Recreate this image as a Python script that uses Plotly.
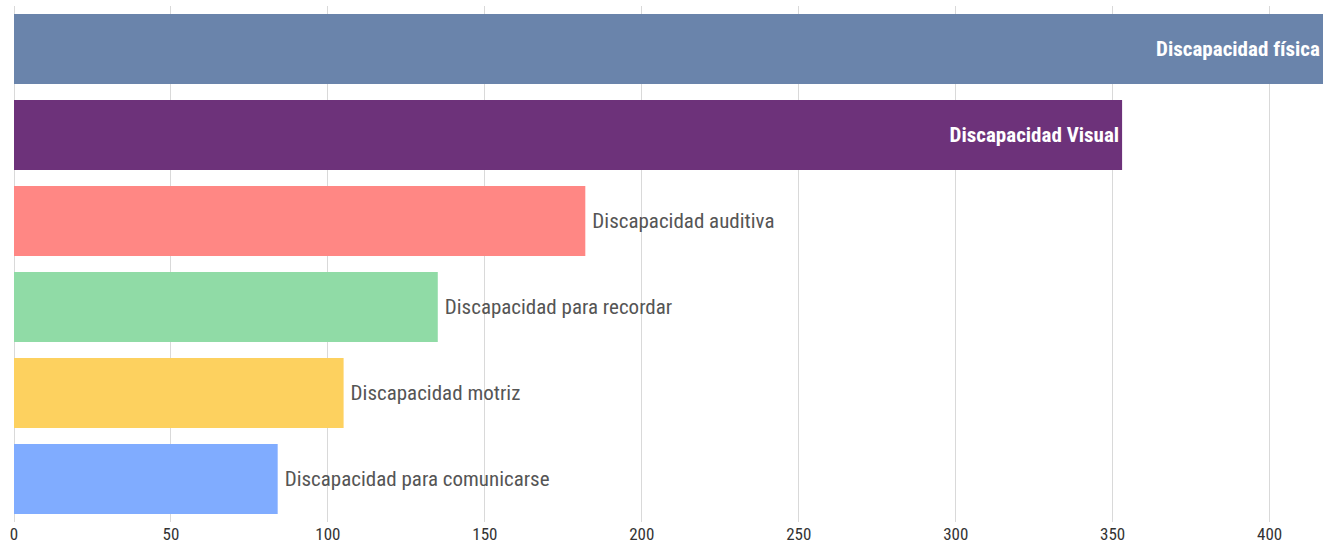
import plotly.graph_objects as go

categories = ["Discapacidad física", "Discapacidad Visual", "Discapacidad auditiva",
              "Discapacidad para recordar", "Discapacidad motriz", "Discapacidad para comunicarse"]
values = [417, 353, 182, 135, 105, 84]
colors = ["#6a84ab", "#6d327a", "#ff8784", "#90dba6", "#fdd15f", "#80acff"]
tick_vals = [0, 50, 100, 150, 200, 250, 300, 350, 400]

FONT = "Roboto Condensed, Liberation Sans Narrow, Arial Narrow, sans-serif"

positions = ["inside", "inside", "outside", "outside", "outside", "outside"]
text_colors = ["#ffffff", "#ffffff", "#555555", "#555555", "#555555", "#555555"]
labels = [f"<b>{c}</b>" if p == "inside" else "\u2009" + c for c, p in zip(categories, positions)]

fig = go.Figure(go.Bar(
    x=values, y=categories, orientation="h",
    marker=dict(color=colors, line=dict(width=0)),
    text=labels, textposition=positions, insidetextanchor="end",
    textangle=0, cliponaxis=False,
    textfont=dict(family=FONT, size=21, color=text_colors),
    hoverinfo="x+y",
))

fig.update_layout(
    width=1330, height=552,
    margin=dict(l=14, r=7, t=6, b=30, autoexpand=False),
    plot_bgcolor="white", paper_bgcolor="white",
    bargap=0.186, showlegend=False,
    font=dict(family=FONT, color="#333333"),
)
fig.update_xaxes(range=[0, 417], tickvals=tick_vals, showgrid=True, gridcolor="#d9d9d9",
                 gridwidth=1, zeroline=True, zerolinecolor="#d9d9d9", zerolinewidth=1,
                 tickfont=dict(family=FONT, size=17, color="#333333"), ticks="", showline=False,
                 automargin=False)
fig.update_yaxes(autorange="reversed", showticklabels=False, showgrid=False, ticks="", showline=False,
                 automargin=False)

fig.write_html("out.html", config={"displayModeBar": False},
               post_script="document.body.style.margin='0px';document.body.style.overflow='hidden';")
